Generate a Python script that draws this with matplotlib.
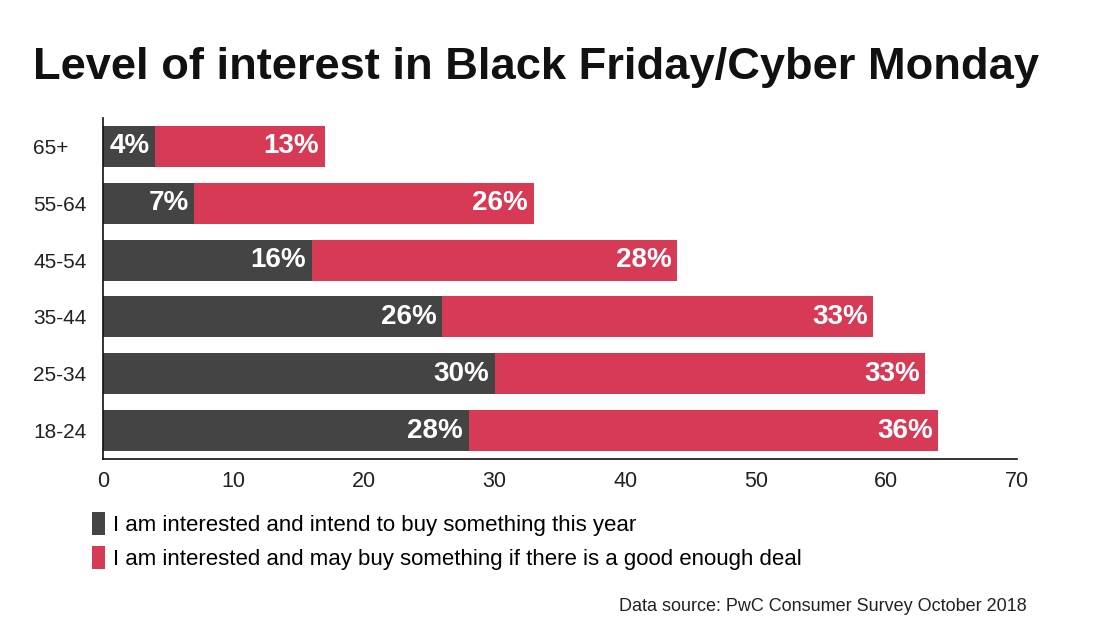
import numpy as np
import matplotlib.pyplot as plt

### Data ###
ages = ["18-24", "25-34", "35-44", "45-54", "55-64", "65+"]
intend = [28, 30, 26, 16, 7, 4]
may_buy = [36, 33, 33, 28, 26, 13]
xticks = [0, 10, 20, 30, 40, 50, 60, 70]

dark = "#444444"
red = "#d63a55"

plt.rcParams['font.family'] = ['Liberation Sans', 'DejaVu Sans']

fig = plt.figure(figsize=(11.1, 6.44), dpi=100)
ax = fig.add_axes([0.0928, 0.2873, 0.8232, 0.5295])

y = np.arange(len(ages))
b1 = ax.barh(y, intend, height=0.72, color=dark, label="I am interested and intend to buy something this year")
b2 = ax.barh(y, may_buy, left=intend, height=0.72, color=red,
             label="I am interested and may buy something if there is a good enough deal")

# value labels, right aligned inside each segment
for i in range(len(ages)):
    ax.annotate(f"{intend[i]}%", (intend[i], y[i]), xytext=(-4, 0), textcoords="offset points",
                ha="right", va="center", color="white", fontsize=20, fontweight="bold")
    tot = intend[i] + may_buy[i]
    ax.annotate(f"{may_buy[i]}%", (tot, y[i]), xytext=(-4, 0), textcoords="offset points",
                ha="right", va="center", color="white", fontsize=20, fontweight="bold")

ax.set_xlim(0, 70)
ax.set_ylim(-0.5, 5.5)
ax.set_xticks(xticks)
ax.set_yticks(y)
ax.set_yticklabels(ages)
ax.tick_params(axis="both", length=0, colors="#222222")
ax.tick_params(axis="x", pad=9, labelsize=15.5)
ax.tick_params(axis="y", pad=0, labelsize=15)
for lab in ax.get_yticklabels():
    lab.set_horizontalalignment("left")
    lab.set_x(-0.0766)
for s in ["top", "right"]:
    ax.spines[s].set_visible(False)
ax.spines["left"].set_color("#111111")
ax.spines["bottom"].set_color("#111111")
ax.spines["left"].set_linewidth(1.2)
ax.spines["bottom"].set_linewidth(1.2)

fig.text(0.03, 0.878, "Level of interest in Black Friday/Cyber Monday",
         fontsize=32.6, fontweight="bold", color="#111111", va="baseline")

fig.legend(handles=[b1, b2], loc="upper left", bbox_to_anchor=(0.075, 0.218),
           frameon=False, fontsize=16, handlelength=0.58, handleheight=1.2,
           handletextpad=0.36, labelspacing=0.45, borderaxespad=0)

fig.text(0.925, 0.058, "Data source: PwC Consumer Survey October 2018",
         fontsize=13, ha="right", va="center", color="#222222")

plt.savefig("out.png", dpi=100)
